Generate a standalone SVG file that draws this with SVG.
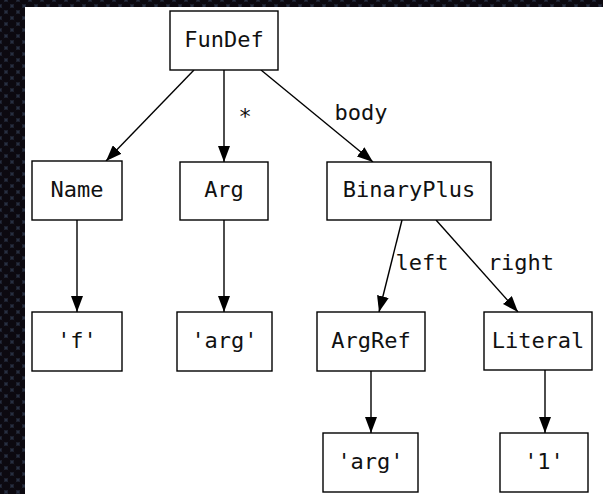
<svg xmlns="http://www.w3.org/2000/svg" width="603" height="494" viewBox="0 0 603 494">
  <defs>
    <pattern id="mesh" width="12" height="12" patternUnits="userSpaceOnUse">
      <rect width="12" height="12" fill="#283042"/>
      <circle cx="6" cy="6" r="4.5" fill="#0c0910"/>
      <circle cx="0" cy="0" r="4.5" fill="#0c0910"/>
      <circle cx="12" cy="0" r="4.5" fill="#0c0910"/>
      <circle cx="0" cy="12" r="4.5" fill="#0c0910"/>
      <circle cx="12" cy="12" r="4.5" fill="#0c0910"/>
    </pattern>
    <marker id="arrow" viewBox="0 0 16 12" refX="16" refY="6" markerWidth="16" markerHeight="12" markerUnits="userSpaceOnUse" orient="auto">
      <path d="M0,0 L16,6 L0,12 Z" fill="#000"/>
    </marker>
  </defs>
  <style>
    .node rect { fill: #fff; stroke: #000; stroke-width: 1.4; }
    .node text, .label { font-family: "DejaVu Sans Mono", "Liberation Mono", monospace; font-size: 22px; fill: #111; text-anchor: middle; }
    .edge { stroke: #000; stroke-width: 1.4; fill: none; marker-end: url(#arrow); }
  </style>

  <!-- backdrop and canvas -->
  <rect width="603" height="494" fill="url(#mesh)"/>
  <rect x="25" y="7" width="578" height="487" fill="#fff"/>

  <g id="connectors">
    <line class="edge" x1="194" y1="70" x2="106" y2="161"/>
    <line class="edge" x1="224" y1="70" x2="224" y2="162"/>
    <line class="edge" x1="261" y1="70" x2="373" y2="162"/>
    <line class="edge" x1="77" y1="220" x2="77" y2="312"/>
    <line class="edge" x1="224" y1="220" x2="224" y2="312"/>
    <line class="edge" x1="402" y1="220" x2="379" y2="312"/>
    <line class="edge" x1="436" y1="220" x2="518" y2="312"/>
    <line class="edge" x1="371" y1="371" x2="371" y2="433"/>
    <line class="edge" x1="545" y1="370" x2="545" y2="433"/>
    <text class="label" x="245" y="124">*</text>
    <text class="label" x="361" y="120">body</text>
    <text class="label" x="422" y="270">left</text>
    <text class="label" x="521" y="270">right</text>
  </g>

  <g id="n-fundef" class="node">
    <rect x="170" y="11" width="108" height="59"/>
    <text x="224" y="47">FunDef</text>
  </g>
  <g id="n-name" class="node">
    <rect x="32" y="161" width="90" height="59"/>
    <text x="77" y="197">Name</text>
  </g>
  <g id="n-arg" class="node">
    <rect x="180" y="162" width="88" height="58"/>
    <text x="224" y="197">Arg</text>
  </g>
  <g id="n-binaryplus" class="node">
    <rect x="327" y="162" width="164" height="58"/>
    <text x="409" y="197">BinaryPlus</text>
  </g>
  <g id="n-f" class="node">
    <rect x="32" y="312" width="90" height="59"/>
    <text x="77" y="348">'f'</text>
  </g>
  <g id="n-arg-str" class="node">
    <rect x="177" y="312" width="95" height="59"/>
    <text x="224.5" y="348">'arg'</text>
  </g>
  <g id="n-argref" class="node">
    <rect x="317" y="312" width="108" height="59"/>
    <text x="371" y="348">ArgRef</text>
  </g>
  <g id="n-literal" class="node">
    <rect x="484" y="312" width="108" height="58"/>
    <text x="538" y="348">Literal</text>
  </g>
  <g id="n-argref-str" class="node">
    <rect x="323" y="433" width="95" height="59"/>
    <text x="370.5" y="469">'arg'</text>
  </g>
  <g id="n-one" class="node">
    <rect x="500" y="433" width="88" height="59"/>
    <text x="544" y="469">'1'</text>
  </g>
</svg>
